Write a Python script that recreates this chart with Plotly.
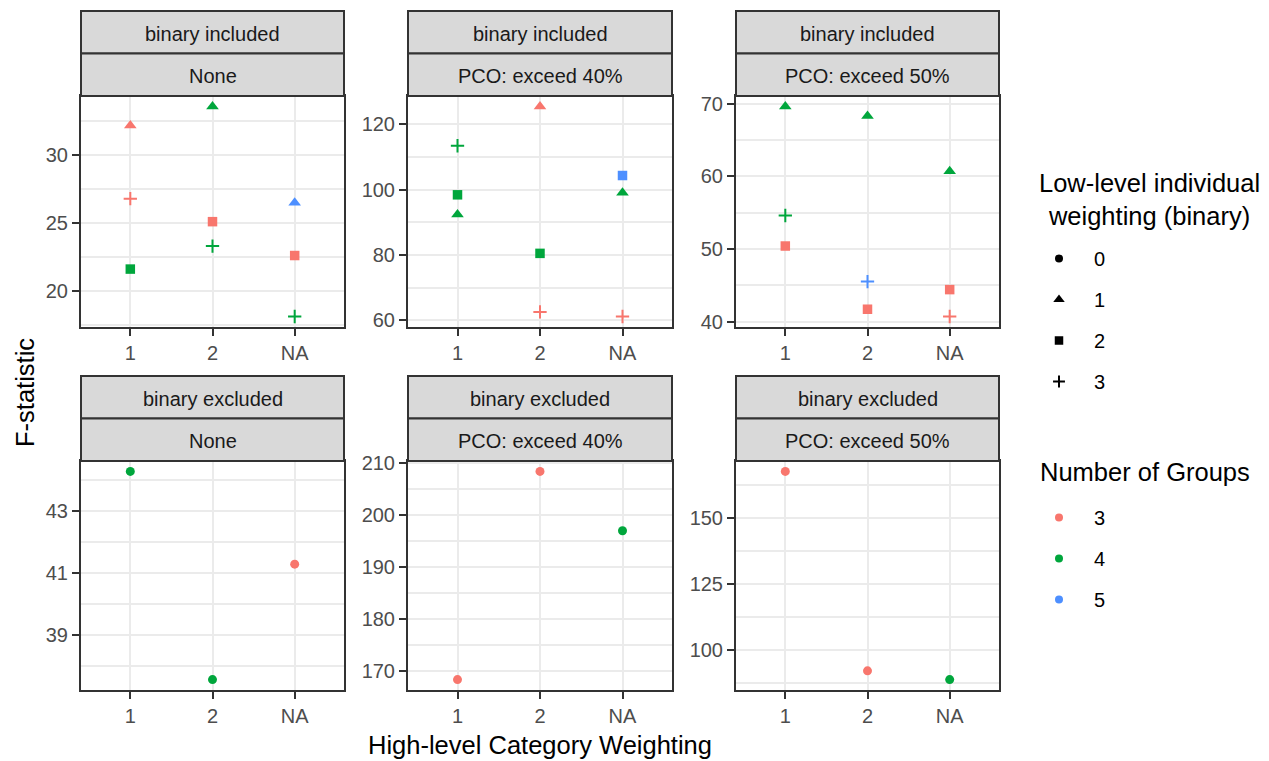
import plotly.graph_objects as go

# ---- data -------------------------------------------------------------
binary_setting = (["binary included"] * 27) + (["binary excluded"] * 9)
pco_setting = (["None"] * 9 + ["PCO: exceed 40%"] * 9 + ["PCO: exceed 50%"] * 9
               + ["None"] * 3 + ["PCO: exceed 40%"] * 3 + ["PCO: exceed 50%"] * 3)
high_level = ["1", "1", "1", "2", "2", "2", "NA", "NA", "NA",
              "1", "1", "1", "2", "2", "2", "NA", "NA", "NA",
              "1", "1", "1", "2", "2", "2", "NA", "NA", "NA",
              "1", "2", "NA",
              "1", "2", "NA",
              "1", "2", "NA"]
low_level = [1, 3, 2, 1, 2, 3, 1, 2, 3,
             3, 2, 1, 1, 2, 3, 2, 1, 3,
             1, 3, 2, 1, 3, 2, 1, 2, 3,
             0, 0, 0,
             0, 0, 0,
             0, 0, 0]
n_groups = [3, 3, 4, 4, 3, 4, 5, 3, 4,
            4, 4, 4, 3, 4, 3, 5, 4, 3,
            4, 4, 3, 4, 5, 3, 4, 3, 3,
            4, 4, 3,
            3, 3, 4,
            3, 3, 4]
f_statistic = [32.2, 26.8, 21.6, 33.6, 25.1, 23.3, 26.5, 22.6, 18.1,
               113.4, 98.4, 92.4, 125.4, 80.5, 62.6, 104.3, 99.0, 61.2,
               69.6, 54.6, 50.4, 68.3, 45.5, 41.7, 60.7, 44.4, 40.7,
               44.27, 37.56, 41.28,
               168.3, 208.3, 196.9,
               167.5, 92.0, 88.7]

binary_levels = ["binary included", "binary excluded"]
pco_levels = ["None", "PCO: exceed 40%", "PCO: exceed 50%"]
x_levels = ["1", "2", "NA"]
low_levels = [0, 1, 2, 3]
group_levels = [3, 4, 5]

# ---- styling ----------------------------------------------------------
FONT = "Liberation Sans, Arial, sans-serif"
group_colors = {3: "#F8766D", 4: "#00A63C", 5: "#4D8FFF"}
shape_symbols = {0: "circle", 1: "triangle-up", 2: "square", 3: "cross-thin"}
shape_sizes = {0: 9, 1: 11, 2: 9.5, 3: 9.5}

W, H = 1269, 761
col_px = [(81, 344), (408, 672), (736, 999)]
row_px = [(96, 327), (461, 690)]
strip_h = 42.5
y_dtick = [[5, 20, 10], [2, 10, 25]]
y_tick0 = [[0, 0, 0], [1, 0, 0]]


def px_x(v):
    return v / W


def px_y(v):
    return 1 - v / H


fig = go.Figure()
shapes = []
annotations = []

for r, b in enumerate(binary_levels):
    for c, p in enumerate(pco_levels):
        k = r * 3 + c + 1
        xa = "x" if k == 1 else f"x{k}"
        ya = "y" if k == 1 else f"y{k}"
        idx = [i for i in range(len(f_statistic))
               if binary_setting[i] == b and pco_setting[i] == p]
        vals = [f_statistic[i] for i in idx]
        lo, hi = min(vals), max(vals)
        pad = 0.05 * (hi - lo)

        for low in low_levels:
            for g in group_levels:
                sel = [i for i in idx if low_level[i] == low and n_groups[i] == g]
                if not sel:
                    continue
                col = group_colors[g]
                thin = shape_symbols[low] == "cross-thin"
                fig.add_trace(go.Scatter(
                    x=[high_level[i] for i in sel],
                    y=[f_statistic[i] for i in sel],
                    mode="markers", xaxis=xa, yaxis=ya, showlegend=False,
                    hoverinfo="skip",
                    marker=dict(symbol=shape_symbols[low], size=shape_sizes[low],
                                color=col,
                                line=dict(width=2 if thin else 0, color=col)),
                ))

        x0, x1 = col_px[c]
        top, bot = row_px[r]
        axis_common = dict(showline=True, mirror=True, linecolor="#333333",
                           linewidth=2, ticks="outside", ticklen=7, tickwidth=2,
                           tickcolor="#333333", showgrid=True,
                           gridcolor="#EBEBEB", gridwidth=2, zeroline=False,
                           automargin=False,
                           tickfont=dict(family=FONT, size=20, color="#4D4D4D"))
        fig.layout[f"xaxis{'' if k == 1 else k}"] = dict(
            axis_common, domain=[px_x(x0), px_x(x1)], anchor=ya,
            type="category", categoryorder="array", categoryarray=x_levels,
            range=[-0.6, 2.6], fixedrange=True)
        fig.layout[f"yaxis{'' if k == 1 else k}"] = dict(
            axis_common, domain=[px_y(bot), px_y(top)], anchor=xa,
            range=[lo - pad, hi + pad], dtick=y_dtick[r][c], tick0=y_tick0[r][c],
            minor=dict(dtick=y_dtick[r][c] / 2, tick0=y_tick0[r][c],
                       showgrid=True, gridcolor="#EBEBEB", gridwidth=1.5),
            fixedrange=True)

        # facet strips: outer label on top, inner label below
        for j, label in enumerate([b, p]):
            s_top = top - strip_h * (2 - j)
            s_bot = s_top + strip_h
            shapes.append(dict(type="rect", xref="paper", yref="paper",
                               x0=px_x(x0), x1=px_x(x1), y0=px_y(s_bot), y1=px_y(s_top),
                               fillcolor="#D9D9D9", line=dict(color="#333333", width=2),
                               layer="above"))
            annotations.append(dict(text=label, xref="paper", yref="paper",
                                    x=px_x((x0 + x1) / 2), y=px_y((s_top + s_bot) / 2 + 1.5),
                                    xanchor="center", yanchor="middle", showarrow=False,
                                    font=dict(family=FONT, size=20, color="#1A1A1A")))

# legend keys
for low in low_levels:
    thin = shape_symbols[low] == "cross-thin"
    fig.add_trace(go.Scatter(
        x=[None], y=[None], mode="markers", name=f"  \u2009{low}", legend="legend",
        legendgroup=f"low{low}",
        marker=dict(symbol=shape_symbols[low], size=shape_sizes[low] - 1, color="#000000",
                    line=dict(width=2 if thin else 0, color="#000000"))))
for g in group_levels:
    fig.add_trace(go.Scatter(
        x=[None], y=[None], mode="markers", name=f"  \u2009{g}", legend="legend2",
        legendgroup=f"grp{g}",
        marker=dict(symbol="circle", size=8, color=group_colors[g], line=dict(width=0))))

legend_font = dict(family=FONT, size=20, color="#000000")
fig.update_layout(
    legend=dict(x=px_x(1039), y=px_y(239), xanchor="left", yanchor="top",
                font=legend_font, tracegroupgap=12, bgcolor="rgba(0,0,0,0)"),
    legend2=dict(x=px_x(1039), y=px_y(498), xanchor="left", yanchor="top",
                 font=legend_font, tracegroupgap=12, bgcolor="rgba(0,0,0,0)"),
)

annotations += [
    dict(text="Low-level individual<br>weighting (binary)", xref="paper", yref="paper",
         x=px_x(1149), y=px_y(200), xanchor="center", yanchor="middle", align="center",
         showarrow=False, font=dict(family=FONT, size=25.5, color="#000000")),
    dict(text="Number of Groups", xref="paper", yref="paper",
         x=px_x(1038), y=px_y(472), xanchor="left", yanchor="middle",
         showarrow=False, font=dict(family=FONT, size=25.5, color="#000000")),
    dict(text="F-statistic", xref="paper", yref="paper", x=px_x(25), y=px_y(393),
         xanchor="center", yanchor="middle", textangle=-90, showarrow=False,
         font=dict(family=FONT, size=25.5, color="#000000")),
    dict(text="High-level Category Weighting", xref="paper", yref="paper",
         x=px_x(540), y=px_y(745), xanchor="center", yanchor="middle", showarrow=False,
         font=dict(family=FONT, size=25.5, color="#000000")),
]

fig.update_layout(width=W, height=H,
                  margin=dict(l=0, r=0, t=0, b=0, autoexpand=False),
                  paper_bgcolor="white", plot_bgcolor="white",
                  shapes=shapes, annotations=annotations, showlegend=True,
                  font=dict(family=FONT))

fig.write_html("out.html", config={"displayModeBar": False})
